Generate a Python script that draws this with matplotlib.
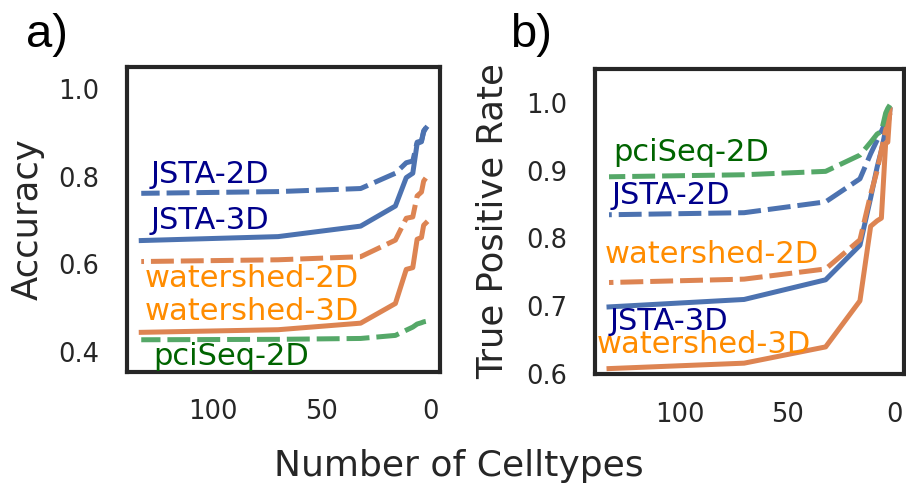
import numpy as np
import matplotlib
matplotlib.use('Agg')
import matplotlib.pyplot as plt

# number of cell types (ascending, axis is inverted)
n_celltypes = [2, 3, 4, 6, 8, 11, 16, 32, 70, 133]

# a) accuracy
acc_jsta_3d = [0.911, 0.905, 0.880, 0.876, 0.808, 0.798, 0.733, 0.687, 0.663, 0.654]
acc_jsta_2d = [0.912, 0.902, 0.882, 0.879, 0.836, 0.832, 0.808, 0.773, 0.766, 0.762]
acc_ws_3d = [0.694, 0.689, 0.661, 0.657, 0.592, 0.588, 0.510, 0.465, 0.450, 0.444]
acc_ws_2d = [0.797, 0.790, 0.765, 0.756, 0.708, 0.705, 0.655, 0.617, 0.610, 0.606]
acc_pciseq_2d = [0.469, 0.468, 0.466, 0.463, 0.456, 0.449, 0.437, 0.430, 0.428, 0.427]

# b) true positive rate
tpr_jsta_3d = [0.990, 0.965, 0.960, 0.930, 0.905, 0.860, 0.790, 0.739, 0.710, 0.699]
tpr_jsta_2d = [0.985, 0.975, 0.972, 0.958, 0.945, 0.925, 0.888, 0.854, 0.838, 0.835]
tpr_ws_3d = [0.990, 0.942, 0.941, 0.830, 0.826, 0.818, 0.708, 0.640, 0.616, 0.608]
tpr_ws_2d = [0.985, 0.970, 0.960, 0.930, 0.900, 0.865, 0.798, 0.755, 0.740, 0.735]
tpr_pciseq_2d = [0.997, 0.992, 0.985, 0.958, 0.954, 0.942, 0.923, 0.899, 0.894, 0.891]

BLUE = '#4C72B0'
ORANGE = '#DD8452'
GREEN = '#55A868'
DARK = '#262626'

plt.rcParams['font.family'] = ['DejaVu Sans']
plt.rcParams['lines.scale_dashes'] = False
DASH = (16.5, 5)
LW = 3.6


def style_axes(ax, ylim, yticks, ylabel, labelpad):
    for sp in ax.spines.values():
        sp.set_linewidth(3)
        sp.set_color(DARK)
    ax.invert_xaxis()
    ax.set_ylim(*ylim)
    ax.set_yticks(yticks)
    ax.set_xticks([100, 50, 0])
    ax.tick_params(length=0, pad=20, labelsize=18.5, labelcolor=DARK)
    ax.set_ylabel(ylabel, fontsize=25.5, color=DARK, labelpad=labelpad)


fig = plt.figure(figsize=(9.06, 4.87), dpi=100)
fig.patch.set_facecolor('white')

# ---- panel a ----
ax1 = fig.add_axes([0.1402, 0.2368, 0.3455, 0.6256])
ax1.plot(n_celltypes, acc_jsta_3d, color=BLUE, lw=LW)
ax1.plot(n_celltypes, acc_jsta_2d, color=BLUE, lw=LW, dashes=DASH)
ax1.plot(n_celltypes, acc_ws_3d, color=ORANGE, lw=LW)
ax1.plot(n_celltypes, acc_ws_2d, color=ORANGE, lw=LW, dashes=DASH)
ax1.plot(n_celltypes, acc_pciseq_2d, color=GREEN, lw=LW, dashes=DASH)
ax1.text(128.5, 0.786, 'JSTA-2D', color='#00008B', fontsize=22)
ax1.text(128.5, 0.680, 'JSTA-3D', color='#00008B', fontsize=22)
ax1.text(131.5, 0.547, 'watershed-2D', color='#FF8C00', fontsize=22)
ax1.text(131.5, 0.472, 'watershed-3D', color='#FF8C00', fontsize=22)
ax1.text(127.5, 0.370, 'pciSeq-2D', color='#006400', fontsize=22)
style_axes(ax1, (0.354, 1.051), [0.4, 0.6, 0.8, 1.0], 'Accuracy', 10)

# ---- panel b ----
ax2 = fig.add_axes([0.6567, 0.2320, 0.3411, 0.6263])
ax2.plot(n_celltypes, tpr_jsta_3d, color=BLUE, lw=LW)
ax2.plot(n_celltypes, tpr_jsta_2d, color=BLUE, lw=LW, dashes=DASH)
ax2.plot(n_celltypes, tpr_ws_2d, color=ORANGE, lw=LW, dashes=DASH)
ax2.plot(n_celltypes, tpr_ws_3d, color=ORANGE, lw=LW)
ax2.plot(n_celltypes, tpr_pciseq_2d, color=GREEN, lw=LW, dashes=DASH)
ax2.text(131.2, 0.914, 'pciSeq-2D', color='#006400', fontsize=22)
ax2.text(132.0, 0.851, 'JSTA-2D', color='#00008B', fontsize=22)
ax2.text(135.0, 0.7635, 'watershed-2D', color='#FF8C00', fontsize=22)
ax2.text(132.7, 0.665, 'JSTA-3D', color='#00008B', fontsize=22)
ax2.text(138.9, 0.6305, 'watershed-3D', color='#FF8C00', fontsize=22)
style_axes(ax2, (0.6, 1.05), [0.6, 0.7, 0.8, 0.9, 1.0], 'True Positive Rate', 12)

# panel letters and shared x label
fig.text(0.0287, 0.904, 'a)', fontsize=34, family='Liberation Sans', color='black')
fig.text(0.563, 0.904, 'b)', fontsize=34, family='Liberation Sans', color='black')
fig.text(459 / 906, 0.0226, 'Number of Celltypes', fontsize=26, color=DARK,
         ha='center', va='baseline')

fig.savefig('out.png', dpi=100, facecolor='white')
plt.close(fig)
